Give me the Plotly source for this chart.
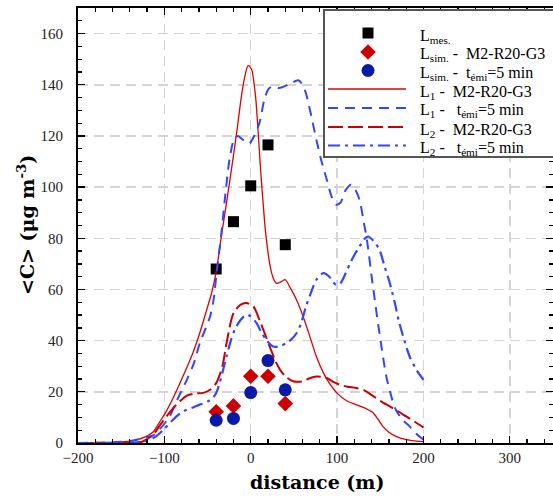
import plotly.graph_objects as go

# measured points
x_pts = [-40, -20, 0, 20, 40]
mes_y = [68, 86.5, 100.5, 116.5, 77.5]
sim_m2_y = [12.2, 14.5, 26.1, 26.1, 15.4]
sim_t5_y = [8.9, 9.6, 19.7, 32.2, 20.8]

# L1 - M2-R20-G3 (red solid)
l1_m2_x = [-200, -170, -150, -140, -130, -120, -113, -105, -99, -90, -82, -74, -67, -59, -51, -45, -40,
           -33, -24, -16, -11, -7, -3, 1, 4, 6, 8.5, 12, 15, 17, 22, 26, 30, 35, 40, 46, 53, 62, 70, 76,
           84, 91, 100, 111, 122, 133, 141, 147, 153, 160, 168, 180, 190, 200]
l1_m2_y = [0, 0.1, 0.4, 0.7, 1.4, 2.8, 4.3, 8.5, 11.7, 17.5, 23.4, 29.5, 35.2, 43, 52, 59, 67,
           83, 103, 122, 135, 143, 147.5, 146, 140, 134, 122, 104, 91, 83, 70, 64.5, 62.4, 63, 63.8, 60.5, 56, 48.2, 40, 33.8,
           27.5, 23.4, 19.5, 16.5, 15, 13.5, 12, 9.5, 6.5, 4.2, 2.6, 1.3, 0.8, 0.5]

# L1 - t_emi=5 min (blue dashed)
l1_t5_x = [-200, -170, -150, -140, -130, -120, -113, -105, -94, -85, -74, -66, -59, -52, -47, -43, -40,
           -34, -28, -24, -19, -15, -9, -4, -1, 4, 10, 16, 21, 26, 33, 45, 55, 60, 64, 70, 76, 82, 88, 94,
           99, 104, 110, 116, 121, 126, 131, 134, 141, 149, 157, 163, 168, 176, 184, 192, 200]
l1_t5_y = [0, 0.2, 0.5, 0.8, 1.5, 2.4, 3, 5.5, 10.4, 17, 24.7, 31, 39, 45, 49.5, 56, 65,
           82, 101.6, 112, 119, 120, 118.5, 117, 117.2, 120, 125, 134.5, 138.5, 139.3, 138.7, 140.3, 141.8, 140, 136.6, 128, 118.5, 110, 103, 96,
           93.1, 94, 98.9, 100.9, 99, 95, 86, 80.7, 62.5, 43, 26, 18, 13, 9, 6.5, 3.5, 1.3]

# L2 - M2-R20-G3 (red dashed)
l2_m2_x = [-200, -150, -130, -125, -120, -113, -105, -97.5, -90, -82, -74, -65, -55, -47, -40, -35, -32,
           -28, -20, -12, -5, 3, 10, 16, 22, 28, 34, 41, 49, 60, 68, 76, 88, 95, 103, 112, 122, 132, 141,
           150, 161, 170, 180, 190, 200]
l2_m2_y = [0, 0, 0.2, 0.6, 1.5, 3.2, 7, 10.4, 13.5, 16.3, 18.5, 19.3, 19.6, 20.8, 23.4, 27.5, 31.2,
           39, 50.7, 54, 54.7, 53.4, 48.2, 43, 37.7, 32.5, 28.6, 25.8, 24.1, 24.1, 25.3, 26, 25.4, 24, 22.8, 22, 21.5, 20.5, 18.5,
           16.5, 14.3, 12.5, 10.4, 8.3, 6.1]

# L2 - t_emi=5 min (blue dash-dot)
l2_t5_x = [-200, -150, -130, -120, -110, -101, -90, -82, -74, -66, -59, -50, -44, -40, -36, -32, -28,
           -23, -18.5, -12, -5, 0, 6.6, 12, 18, 26, 33, 41, 47, 53, 58, 64, 70, 76, 84, 91, 95, 99, 104,
           110, 115, 120, 126, 131, 136, 142, 149, 155, 161, 167, 172, 178, 184, 192, 200]
l2_t5_y = [0, 0.1, 0.4, 1, 2.5, 5.2, 9.1, 11.5, 13, 14, 15, 16.2, 17.6, 19.5, 23.4, 28.5, 33.8,
           40, 44.3, 48, 50.1, 49.5, 46.9, 43.5, 40.3, 37.7, 37.8, 39, 40.5, 42.9, 46.5, 53.4, 59, 63.8, 66.4, 65, 63, 61.8, 62.5,
           66.4, 70.2, 73.5, 76.8, 79.5, 80.7, 79, 75.5, 69, 62.5, 54.5, 47, 40, 33.8, 28.5, 24.7]

x_tickvals = [-200, -100, 0, 100, 200, 300]
y_tickvals = [0, 20, 40, 60, 80, 100, 120, 140, 160]

legend_labels = [
    'L<sub>mes.</sub>',
    'L<sub>sim.</sub> -\u00a0 M2-R20-G3',
    'L<sub>sim.</sub> -\u00a0 t<sub>émi</sub>=5 min',
    'L<sub>1</sub> -\u00a0 M2-R20-G3',
    'L<sub>1</sub> -\u00a0\u00a0 t<sub>émi</sub>=5 min',
    'L<sub>2</sub> -\u00a0 M2-R20-G3',
    'L<sub>2</sub> -\u00a0\u00a0 t<sub>émi</sub>=5 min',
]

RED = '#e00000'
DRED = '#cc0000'
BLUE = '#3345ff'
NAVY = '#0a1aa8'
FONT = 'Liberation Serif'
TFONT = 'DejaVu Serif'

W, H = 553, 496
ML, MR, MT, MB = 78, 0, 8, 53
PW, PH = W - ML - MR, H - MT - MB


def pxx(p):
    return (p - ML) / PW


def pxy(p):
    return (H - MB - p) / PH


fig = go.Figure()
fig.add_trace(go.Scatter(x=x_pts, y=mes_y, mode='markers', name=legend_labels[0],
                         marker=dict(symbol='square', size=11, color='black')))
fig.add_trace(go.Scatter(x=x_pts, y=sim_m2_y, mode='markers', name=legend_labels[1],
                         marker=dict(symbol='diamond', size=12, color=DRED)))
fig.add_trace(go.Scatter(x=x_pts, y=sim_t5_y, mode='markers', name=legend_labels[2],
                         marker=dict(symbol='circle', size=13, color=NAVY)))
line_styles = [
    dict(color=RED, width=1.3),
    dict(color=BLUE, width=2, dash='10px,7px'),
    dict(color=DRED, width=2, dash='15px,5px'),
    dict(color=BLUE, width=2.2, dash='12px,5px,3px,5px'),
]
for (xs, ys), lbl, st in zip([(l1_m2_x, l1_m2_y), (l1_t5_x, l1_t5_y), (l2_m2_x, l2_m2_y), (l2_t5_x, l2_t5_y)],
                             legend_labels[3:], line_styles):
    fig.add_trace(go.Scatter(x=xs, y=ys, mode='lines', name=lbl,
                             line=dict(shape='spline', smoothing=0.8, **st)))

# ---- hand-drawn legend box (to match the compact original spacing) ----
shapes = []
annotations = []
shapes.append(dict(type='rect', xref='paper', yref='paper', layer='above',
                   x0=pxx(324), x1=pxx(556), y0=pxy(157), y1=pxy(10),
                   fillcolor='white', line=dict(color='#555', width=2)))
rows = [33, 52, 70.5, 89, 108, 127, 145.5]
mx = 368
# square
shapes.append(dict(type='rect', xref='paper', yref='paper', layer='above',
                   x0=pxx(mx - 5.5), x1=pxx(mx + 5.5), y0=pxy(rows[0] + 5.5), y1=pxy(rows[0] - 5.5),
                   fillcolor='black', line=dict(width=0)))
# diamond
r = 7.8
cy = rows[1]
shapes.append(dict(type='path', xref='paper', yref='paper', layer='above',
                   path=f'M {pxx(mx - r)},{pxy(cy)} L {pxx(mx)},{pxy(cy - r)} L {pxx(mx + r)},{pxy(cy)} L {pxx(mx)},{pxy(cy + r)} Z',
                   fillcolor=DRED, line=dict(width=0)))
# circle
rc = 6.5
cy = rows[2]
shapes.append(dict(type='circle', xref='paper', yref='paper', layer='above',
                   x0=pxx(mx - rc), x1=pxx(mx + rc), y0=pxy(cy + rc), y1=pxy(cy - rc),
                   fillcolor=NAVY, line=dict(width=0)))
for st, cy in zip(line_styles, rows[3:]):
    shapes.append(dict(type='line', xref='paper', yref='paper', layer='above',
                       x0=pxx(328), x1=pxx(406), y0=pxy(cy), y1=pxy(cy),
                       line=dict(color=st['color'], width=max(st['width'], 1.6), dash=st.get('dash', 'solid'))))
for lbl, cy in zip(legend_labels, rows):
    annotations.append(dict(text=lbl, xref='paper', yref='paper', x=pxx(418), y=pxy(cy + 3),
                            xanchor='left', yanchor='middle', showarrow=False,
                            font=dict(family=FONT, size=16, color='black')))

# axis titles
annotations.append(dict(text='<b>distance (m)</b>', xref='paper', yref='paper',
                        x=pxx(317), y=pxy(482), xanchor='center', yanchor='middle', showarrow=False,
                        font=dict(family=TFONT, size=19, color='black')))
annotations.append(dict(text='<b>&lt;C&gt; (μg m<sup>-3</sup>)</b>', xref='paper', yref='paper',
                        x=pxx(26), y=pxy(225), xanchor='center', yanchor='middle', showarrow=False,
                        textangle=-90, font=dict(family=TFONT, size=19, color='black')))

axis_common = dict(
    showline=True, linecolor='black', linewidth=2, mirror='ticks',
    ticks='inside', ticklen=7, tickwidth=1.3, tickcolor='black',
    showgrid=True, gridcolor='#d4d4d4', gridwidth=1.5, griddash='10px,6px',
    zeroline=False,
    tickfont=dict(family=FONT, size=15, color='#222'),
)

fig.update_layout(
    width=W, height=H,
    margin=dict(l=ML, r=MR, t=MT, b=MB, autoexpand=False),
    paper_bgcolor='white', plot_bgcolor='white',
    font=dict(family=FONT),
    showlegend=False,
    hovermode=False,
    shapes=shapes,
    annotations=annotations,
    xaxis=dict(range=[-200, 350], tickvals=x_tickvals,
               minor=dict(dtick=20, ticks='inside', ticklen=4, tickcolor='black', showgrid=False),
               **axis_common),
    yaxis=dict(range=[0, 170], tickvals=y_tickvals,
               minor=dict(dtick=5, ticks='inside', ticklen=4, tickcolor='black', showgrid=False),
               ticklabelstandoff=10,
               **axis_common),
)

fig.write_html('out.html', config={'displayModeBar': False, 'staticPlot': True},
               post_script="document.body.style.margin='0';")
